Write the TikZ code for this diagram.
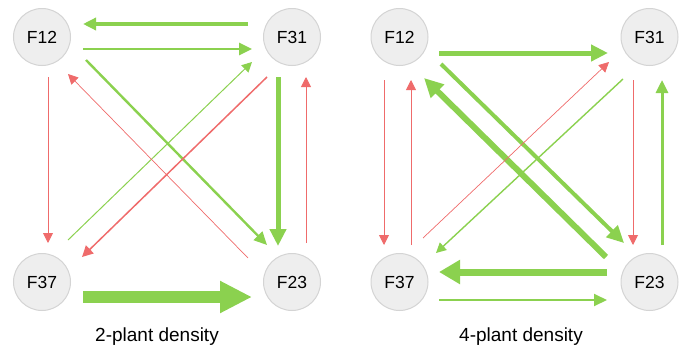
\documentclass[tikz,border=0pt]{standalone}
\usepackage{fontspec}
\setmainfont{Liberation Sans}
\usetikzlibrary{arrows.meta,calc}
\definecolor{linkgreen}{HTML}{8BD14F}
\definecolor{linkred}{HTML}{EF6B6B}
\definecolor{nodefill}{HTML}{EEEEEE}
\definecolor{nodeline}{HTML}{D4D4D4}
\begin{document}
\begin{tikzpicture}[x=1pt,y=-1pt,
  plant/.style={circle,fill=nodefill,draw=nodeline,line width=1pt,minimum size=57pt,inner sep=0pt,
    font=\fontsize{17.5}{20}\selectfont},
  caption/.style={font=\fontsize{19}{22}\selectfont},
  gthin/.style={draw=linkgreen,line width=1pt,-{Triangle[length=10pt,width=10pt,fill=linkgreen]}},
  gmid/.style={draw=linkgreen,line width=2.6pt,-{Triangle[length=13pt,width=12pt,fill=linkgreen]}},
  gthick/.style={draw=linkgreen,line width=5pt,-{Triangle[length=17pt,width=16pt,fill=linkgreen]}},
  rthin/.style={draw=linkred,line width=0.9pt,-{Triangle[length=10pt,width=10pt,fill=linkred]}},
  rmid/.style={draw=linkred,line width=1.5pt,-{Triangle[length=11pt,width=11pt,fill=linkred]}},
]
\useasboundingbox (0,0) rectangle (682,351);

% 2-plant density
\node[plant] (A12) at (42,37) {F12};
\node[plant] (A31) at (292,37) {F31};
\node[plant] (A37) at (42,282) {F37};
\node[plant] (A23) at (292,282) {F23};
\node[caption] (capA) at (157,337) {2-plant density};

\draw[gmid,line width=3.3pt] ($(A31)+(-44,-13)$) -- ($(A12)+(41,-13)$);
\draw[gmid] ($(A12)+(41,12)$) -- ($(A31)+(-40,12)$);
\draw[gmid,line width=2.4pt] ($(A12)+(44,23)$) -- ($(A23)+(-25,-37)$);
\draw[gthin] ($(A37)+(26,-42)$) -- ($(A31)+(-40,25)$);
\draw[rmid] ($(A31)+(-25,40)$) -- ($(A37)+(40,-25)$);
\draw[rthin,line width=0.7pt] ($(A23)+(-44,-24)$) -- ($(A12)+(26,37)$);
\draw[rthin] ($(A12)+(6,40)$) -- ($(A37)+(6,-39)$);
\draw[gthick] ($(A31)+(-14,40)$) -- ($(A23)+(-14,-36)$);
\draw[rthin] ($(A23)+(14,-39)$) -- ($(A31)+(14,40)$);
\draw[draw=linkgreen,line width=11.5pt,-{Triangle[length=32pt,width=30pt,fill=linkgreen]}]
  ($(A37)+(41,15)$) -- ($(A23)+(-40,15)$);

% 4-plant density
\node[plant] (B12) at (399.5,37) {F12};
\node[plant] (B31) at (649.5,37) {F31};
\node[plant] (B37) at (399.5,282) {F37};
\node[plant] (B23) at (649.5,282) {F23};
\node[caption] (capB) at (521,337) {4-plant density};

\draw[gthick] ($(B12)+(39.5,16)$) -- ($(B31)+(-41.5,16)$);
\draw[gthick,line width=4pt] ($(B12)+(41.5,27)$) -- ($(B23)+(-25.5,-39)$);
\draw[gthick,line width=6pt,-{Triangle[length=19pt,width=18pt,fill=linkgreen]}] ($(B23)+(-43.5,-25)$) -- ($(B12)+(24.5,41)$);
\draw[gthin,line width=1.4pt] ($(B31)+(-26.5,42)$) -- ($(B37)+(36.5,-29)$);
\draw[rthin,line width=0.7pt] ($(B37)+(23.5,-44)$) -- ($(B31)+(-40.5,25)$);
\draw[rthin] ($(B12)+(-15.5,43)$) -- ($(B37)+(-15.5,-37)$);
\draw[rthin] ($(B37)+(11.5,-37)$) -- ($(B12)+(11.5,43)$);
\draw[rthin] ($(B31)+(-16.5,43)$) -- ($(B23)+(-16.5,-37)$);
\draw[gmid,line width=3pt] ($(B23)+(12.5,-37)$) -- ($(B31)+(12.5,43)$);
\draw[draw=linkgreen,line width=7pt,-{Triangle[length=21pt,width=23pt,fill=linkgreen]}]
  ($(B23)+(-42.5,-10)$) -- ($(B37)+(39.5,-10)$);
\draw[gmid,line width=2pt] ($(B37)+(39.5,18)$) -- ($(B23)+(-42.5,18)$);
\end{tikzpicture}
\end{document}
